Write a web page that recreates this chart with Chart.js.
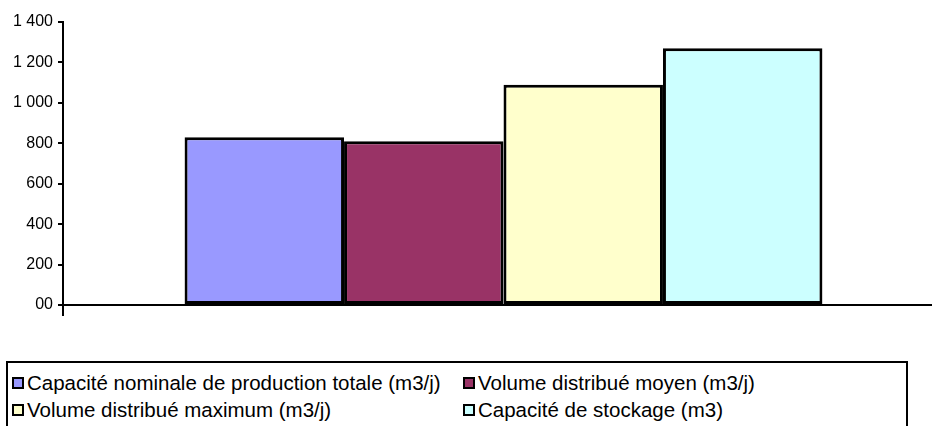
<!DOCTYPE html>
<html>
<head>
<meta charset="utf-8">
<script src="https://cdn.jsdelivr.net/npm/chart.js@4/dist/chart.umd.min.js"></script>
<style>
  html, body { margin: 0; padding: 0; background: #fff; overflow: hidden; width: 932px; height: 426px; }
  #wrap { position: relative; width: 932px; height: 426px; overflow: hidden; }
  #chart { position: absolute; left: 0; top: 0; }
  #legend {
    position: absolute; left: 6px; top: 361px; width: 902px; height: 80px;
    border: 2px solid #000; box-sizing: border-box;
    font-family: "Liberation Sans", Arial, sans-serif; font-size: 20.5px; color: #000;
  }
  .item { position: absolute; display: flex; align-items: center; white-space: nowrap; line-height: 22px; }
  .sw { width: 8px; height: 8px; border: 2px solid #000; margin-right: 3px; flex: none; }
</style>
</head>
<body>
<div id="wrap">
  <canvas id="chart" width="944" height="340"></canvas>
  <div id="legend"></div>
</div>
<script>
// Water supply figures for the service (single group of four bars)
const categories = [''];
const seriesNames = [
  'Capacité nominale de production totale (m3/j)',
  'Volume distribué moyen (m3/j)',
  'Volume distribué maximum (m3/j)',
  'Capacité de stockage (m3)'
];
const capaciteNominale = [830];
const volumeMoyen = [810];
const volumeMaximum = [1090];
const capaciteStockage = [1270];
const yTickLabels = ['00', '200', '400', '600', '800', '1 000', '1 200', '1 400'];

const seriesValues = [capaciteNominale, volumeMoyen, volumeMaximum, capaciteStockage];
const seriesColors = ['#9999FF', '#993366', '#FFFFCC', '#CCFFFF'];

const chart = new Chart(document.getElementById('chart'), {
  type: 'bar',
  data: {
    labels: categories,
    datasets: seriesNames.map((name, i) => ({
      label: name,
      data: seriesValues[i],
      backgroundColor: seriesColors[i],
      borderColor: '#000',
      borderWidth: 3,
      borderSkipped: false,
      barPercentage: 1,
      categoryPercentage: 0.724
    }))
  },
  options: {
    responsive: false,
    devicePixelRatio: 1,
    animation: false,
    layout: { padding: { top: 22, right: 0, bottom: 0, left: 0 } },
    plugins: { legend: { display: false }, tooltip: { enabled: false } },
    scales: {
      x: {
        ticks: { display: false },
        grid: { display: true, drawOnChartArea: false, drawTicks: true, tickLength: 11, color: '#000', lineWidth: 2 },
        border: { display: true, color: '#000', width: 2 },
        afterFit: s => { s.height = 35; }
      },
      y: {
        min: 0, max: 1400,
        ticks: {
          stepSize: 200,
          padding: 5,
          color: '#000',
          font: { family: '"Liberation Sans", Arial, sans-serif', size: 16 },
          callback: (v, i) => yTickLabels[i]
        },
        grid: { display: true, drawOnChartArea: false, drawTicks: true, tickLength: 5, color: '#000', lineWidth: 2 },
        border: { display: true, color: '#000', width: 2 },
        afterFit: s => { s.width = 63; }
      }
    }
  }
});

// Two-column boxed legend built from the chart's datasets
const legend = document.getElementById('legend');
const slots = [
  { left: 4, top: 9 }, { left: 455, top: 9 },
  { left: 4, top: 36 }, { left: 455, top: 36 }
];
chart.data.datasets.forEach((ds, i) => {
  const it = document.createElement('div');
  it.className = 'item';
  it.style.left = slots[i].left + 'px';
  it.style.top = slots[i].top + 'px';
  const sw = document.createElement('span');
  sw.className = 'sw';
  sw.style.background = ds.backgroundColor;
  const tx = document.createElement('span');
  tx.textContent = ds.label;
  it.appendChild(sw);
  it.appendChild(tx);
  legend.appendChild(it);
});
</script>
</body>
</html>
